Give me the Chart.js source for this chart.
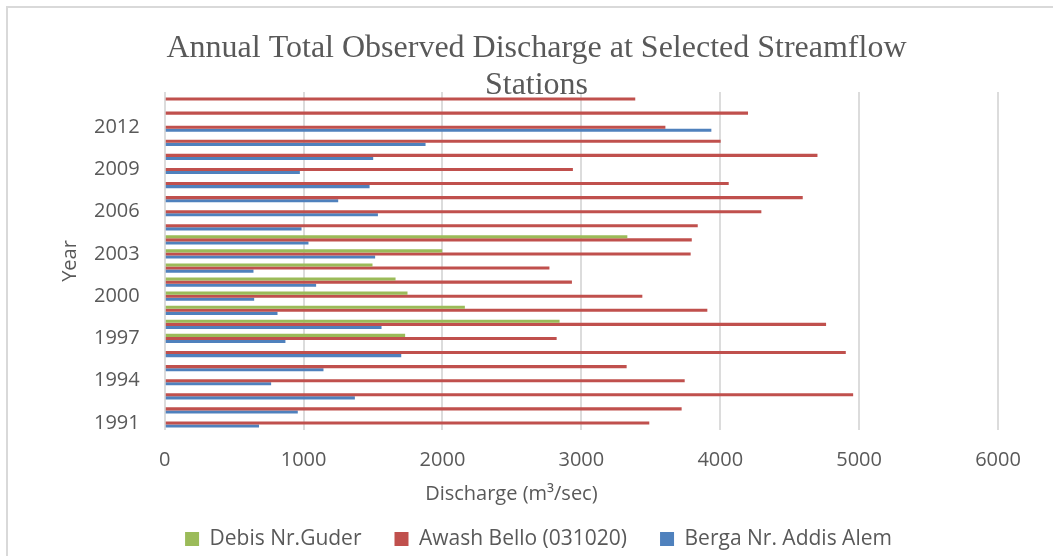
<!DOCTYPE html>
<html>
<head>
<meta charset="utf-8">
<script src="https://cdn.jsdelivr.net/npm/chart.js@4/dist/chart.umd.min.js"></script>
<style>
  html, body { margin: 0; padding: 0; background: #fff; }
  #wrap { position: relative; width: 1053px; height: 556px; overflow: hidden; }
  #frame { position: absolute; left: 6px; top: 6px; width: 1100px; height: 600px;
           border-top: 2px solid #d9d9d9; border-left: 2px solid #d9d9d9; box-sizing: border-box; }
  canvas { position: absolute; left: 0; top: 0; }
</style>
</head>
<body>
<div id="wrap">
  <div id="frame"></div>
  <canvas id="dischargeChart" width="1053" height="556"></canvas>
</div>
<script>
// years, bottom to top
const years = ['1991','1992','1993','1994','1995','1996','1997','1998','1999','2000','2001','2002',
               '2003','2004','2005','2006','2007','2008','2009','2010','2011','2012','2013','2014'];

// annual totals (m3/sec)
const debisGuder = [null, null, null, null, null, null, 1731, 2843, 2161, 1748, 1662, 1496,
                    1998, 3331, null, null, null, null, null, null, null, null, null, null];
const awashBello = [3489, 3722, 4957, 3744, 3326, 4904, 2822, 4762, 3907, 3439, 2932, 2770,
                    3787, 3795, 3838, 4296, 4594, 4061, 2939, 4700, 4003, 3605, 4200, 3388];
const bergaAddis = [679, 958, 1369, 766, 1143, 1703, 869, 1561, 812, 644, 1090, 639,
                    1515, 1035, 985, 1535, 1249, 1475, 973, 1501, 1878, 3936, null, null];

const xTicks = [0, 1000, 2000, 3000, 4000, 5000, 6000];

const labelFont = "'Open Sans', 'DejaVu Sans', sans-serif";
const grey = '#595959';

// nudge legend row, title and x-axis title so they sit like the original
// (runs after configure(), so only the centring of those texts moves)
const boxShift = {
    id: 'boxShift',
    afterLayout(chart) {
        chart.legend.left += 23;
        chart.legend.right += 23;
        chart.titleBlock.left += 21;
        chart.titleBlock.right += 21;
        chart.scales.x.left -= 70;
        chart.scales.x.right -= 70;
    }
};

document.addEventListener('DOMContentLoaded', () => {
    const ctx = document.getElementById('dischargeChart').getContext('2d');
    new Chart(ctx, {
        type: 'bar',
        data: {
            labels: years,
            datasets: [
                { label: 'Debis Nr.Guder', data: debisGuder, backgroundColor: '#9BBB59' },
                { label: 'Awash Bello (031020)', data: awashBello, backgroundColor: '#C0504D' },
                { label: 'Berga Nr. Addis Alem', data: bergaAddis, backgroundColor: '#4F81BD' }
            ]
        },
        plugins: [boxShift],
        options: {
            indexAxis: 'y',
            responsive: false,
            animation: false,
            categoryPercentage: 0.66,
            barPercentage: 1.0,
            layout: { padding: { left: 33, right: 55, top: 0, bottom: -3.5 } },
            plugins: {
                title: {
                    display: true,
                    text: ['Annual Total Observed Discharge at Selected Streamflow', 'Stations'],
                    color: grey,
                    font: { family: "'Liberation Serif', 'DejaVu Serif', serif", size: 32, weight: 'normal', lineHeight: 1.17 },
                    padding: { top: 29.5, bottom: -12.4 }
                },
                legend: {
                    position: 'bottom',
                    labels: {
                        color: grey,
                        font: { family: labelFont, size: 21 },
                        boxWidth: 14,
                        boxHeight: 14,
                        padding: 33
                    }
                },
                tooltip: { enabled: false }
            },
            scales: {
                x: {
                    min: 0,
                    max: 6000,
                    afterBuildTicks: axis => { axis.ticks = xTicks.map(v => ({ value: v })); },
                    grid: { color: '#dcdcdc', lineWidth: 2, drawTicks: false },
                    border: { display: false },
                    ticks: {
                        color: grey,
                        font: { family: labelFont, size: 20 },
                        padding: 18,
                        maxRotation: 0,
                        callback: v => String(v)
                    },
                    title: {
                        display: true,
                        text: 'Discharge (m\u00B3/sec)',
                        color: grey,
                        font: { family: labelFont, size: 20 },
                        padding: { top: -8, bottom: -10.5 }
                    }
                },
                y: {
                    reverse: true,
                    grid: { display: false, drawTicks: false },
                    border: { display: false },
                    ticks: {
                        color: grey,
                        font: { family: labelFont, size: 20 },
                        padding: 25,
                        autoSkip: false,
                        callback: function (val, i) {
                            return (i % 3 === 0) ? years[i] : '';
                        }
                    },
                    title: {
                        display: true,
                        text: 'Year',
                        color: grey,
                        font: { family: labelFont, size: 20 },
                        padding: { top: 25, bottom: -13 }
                    }
                }
            }
        }
    });
});
</script>
</body>
</html>
